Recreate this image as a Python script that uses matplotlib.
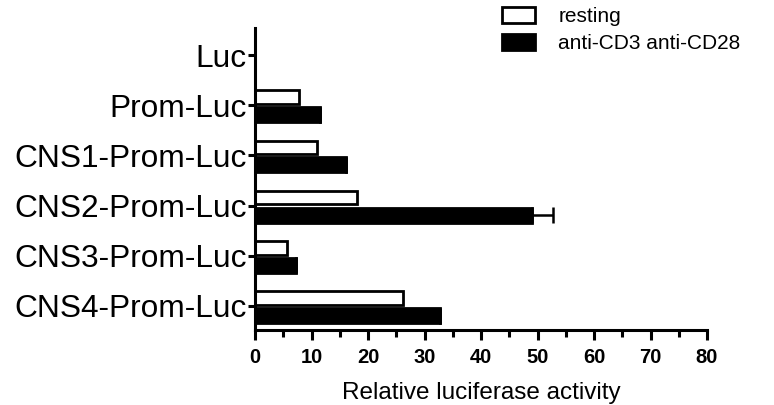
import numpy as np
import matplotlib
matplotlib.use("Agg")
import matplotlib.pyplot as plt

plt.rcParams['font.family'] = ['Liberation Sans', 'DejaVu Sans']

# values
constructs = ['Luc', 'Prom-Luc', 'CNS1-Prom-Luc', 'CNS2-Prom-Luc', 'CNS3-Prom-Luc', 'CNS4-Prom-Luc']
resting = [0.0, 7.8, 10.9, 18.0, 5.6, 26.1]
stimulated = [0.0, 11.5, 16.1, 49.0, 7.2, 32.8]
stimulated_err = [0.0, 0.0, 0.0, 3.7, 0.0, 0.0]

fig = plt.figure(figsize=(7.74, 4.05), dpi=100)
ax = fig.add_axes([0.3295, 0.185, 0.584, 0.746])

y = np.arange(len(constructs))
ax.barh(y - 0.16, resting, height=0.27, color='white', edgecolor='black',
        linewidth=2.0, label='resting')
ax.barh(y + 0.19, stimulated, height=0.30, color='black', edgecolor='black',
        linewidth=2.0, label='anti-CD3 anti-CD28')
ax.errorbar(stimulated, y + 0.19, xerr=[np.zeros(len(y)), stimulated_err],
            fmt='none', ecolor='black', elinewidth=1.8, capsize=6, capthick=1.8)

ax.set_xlim(0, 80)
ax.set_ylim(5.48, -0.54)
ax.set_yticks(y)
ax.set_yticklabels(constructs, fontsize=22.8)
ax.set_xticks(np.arange(0, 81, 10))
ax.set_xticks(np.arange(5, 80, 10), minor=True)
ax.set_xticklabels([str(v) for v in range(0, 81, 10)], fontsize=14.5, fontweight='bold')
ax.set_xlabel('Relative luciferase activity', fontsize=17.5, labelpad=11)

for s in ['top', 'right']:
    ax.spines[s].set_visible(False)
for s in ['left', 'bottom']:
    ax.spines[s].set_linewidth(2.2)
ax.tick_params(axis='x', which='major', length=7, width=2.2, pad=6)
ax.tick_params(axis='x', which='minor', length=5, width=2.2)
ax.tick_params(axis='y', length=5, width=2.2, pad=1)

ax.legend(loc='upper left', bbox_to_anchor=(502 / 774, 1 - 7 / 405),
          bbox_transform=fig.transFigure, frameon=False, fontsize=15,
          borderpad=0, borderaxespad=0, handlelength=1.6, handleheight=0.8,
          handletextpad=1.1, labelspacing=0.38)

fig.savefig('out.png', dpi=100)
